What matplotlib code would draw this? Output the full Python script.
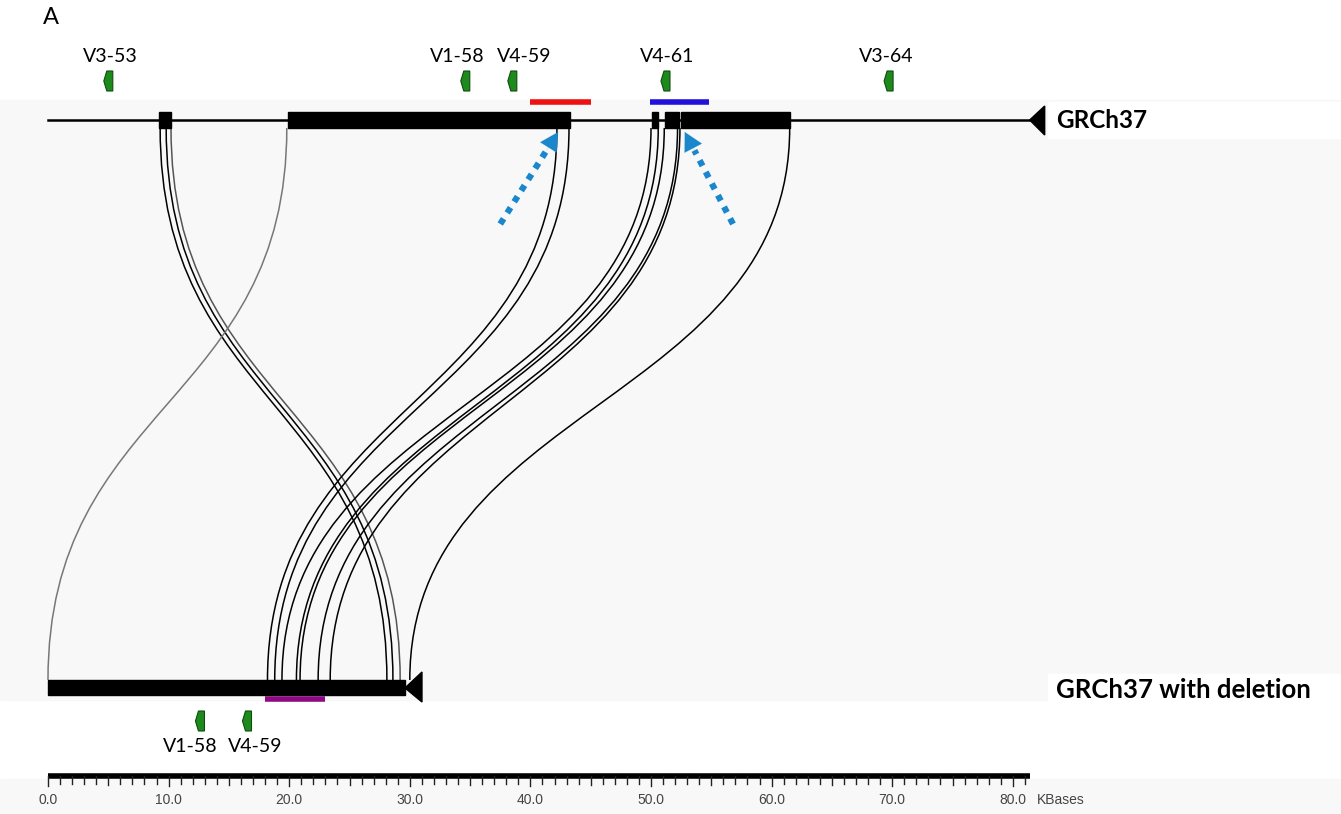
import numpy as np
import matplotlib
matplotlib.use("Agg")
import matplotlib.pyplot as plt
from matplotlib.path import Path
from matplotlib.patches import PathPatch, Polygon, Rectangle

# sequences (kb)
top_len = 81.4
bot_len = 29.6
top_blocks = [(9.2, 10.2), (19.9, 43.3), (50.1, 50.6), (51.2, 52.3), (52.5, 61.5)]

# alignment links: top position -> bottom position (kb)
link_top = [9.3, 9.8, 10.2, 19.8, 42.2, 43.2, 50.0, 50.6, 51.1, 52.2, 52.4, 61.5]
link_bot = [28.1, 28.6, 29.2, 0.0, 18.2, 18.8, 19.4, 20.6, 20.9, 22.4, 23.4, 30.0]
link_col = ["k", "k", "#555555", "#777777", "k", "k", "k", "k", "k", "k", "k", "k"]

top_genes = ["V3-53", "V1-58", "V4-59", "V4-61", "V3-64"]
top_gene_pos = [5.0, 34.6, 38.5, 51.2, 69.7]
top_label_pos = [5.2, 33.9, 39.5, 51.3, 69.5]
bot_genes = ["V1-58", "V4-59"]
bot_gene_pos = [12.6, 16.5]
bot_label_pos = [11.8, 17.2]

red_seg = (40.0, 45.0)
blue_seg = (49.9, 54.8)
purple_seg = (18.0, 23.0)

# dotted arrows (tail kb, head kb)
arrows = [(37.5, 42.3), (56.8, 52.8)]

ticks = np.arange(0, 82, 1)
tick_labels = np.arange(0, 90, 10)

px = 12.06  # pixels per kb
fig = plt.figure(figsize=(13.41, 8.14), dpi=100)
ax = fig.add_axes([0, 0, 1, 1])
ax.set_xlim(-48 / px, (1341 - 48) / px)
ax.set_ylim(814, 0)
ax.axis("off")

# backgrounds
ax.add_patch(Rectangle((-48 / px, 100), 1341 / px, 600, color="#f8f8f8", zorder=0))
ax.add_patch(Rectangle((1048 / px - 4, 102), 300 / px, 36, color="white", zorder=0))
ax.add_patch(Rectangle((1048 / px - 4, 674), 300 / px, 30, color="white", zorder=0))
ax.add_patch(Rectangle((-48 / px, 779), 1341 / px, 40, color="#f8f8f8", zorder=0))

ax.text(-0.4, 18, "A", fontsize=17, family="Lato", va="center", ha="left")

# top sequence
yt = 120
ax.plot([0, top_len], [yt, yt], color="k", lw=1.8, zorder=3)
for a, b in top_blocks:
    ax.add_patch(Rectangle((a, yt - 8), b - a, 16, color="k", zorder=3))
tri_w = 15 / px
ax.add_patch(Polygon([[top_len, yt], [top_len + tri_w, yt - 14], [top_len + tri_w, yt + 15]],
                     closed=True, color="k", zorder=3))
ax.text(1056 / px - 4, yt, "GRCh37", fontsize=17.5, family="Lato", fontweight="bold",
        va="center", ha="left")

# bottom sequence
yb = 688
ax.add_patch(Rectangle((0, yb - 8), bot_len, 15, color="k", zorder=3))
ax.add_patch(Polygon([[bot_len, yb], [bot_len + 17 / px, yb - 16], [bot_len + 17 / px, yb + 14]],
                     closed=True, color="k", zorder=3))
ax.text(1056 / px - 4, yb + 2, "GRCh37 with deletion", fontsize=18.5, family="Lato",
        fontweight="bold", va="center", ha="left")

# links
y0, y1 = yt + 8, yb - 8
k = 0.5 * (y1 - y0)
for xt, xb, c in zip(link_top, link_bot, link_col):
    verts = [(xt, y0), (xt, y0 + k), (xb, y1 - k), (xb, y1)]
    path = Path(verts, [Path.MOVETO, Path.CURVE4, Path.CURVE4, Path.CURVE4])
    ax.add_patch(PathPatch(path, fc="none", ec=c, lw=1.1, zorder=2))

# highlight segments
ax.plot(red_seg, [102, 102], color="#ee1111", lw=4, solid_capstyle="butt", zorder=3)
ax.plot(blue_seg, [102, 102], color="#2211dd", lw=4, solid_capstyle="butt", zorder=3)
ax.plot(purple_seg, [699, 699], color="#8e0a80", lw=4, solid_capstyle="butt", zorder=3)


# gene markers
def gene(x, yc):
    w = 9 / px
    h = 10
    pts = [[x + w / 2, yc - h], [x - w / 6, yc - h], [x - w / 2, yc],
           [x - w / 6, yc + h], [x + w / 2, yc + h]]
    ax.add_patch(Polygon(pts, closed=True, fc="#1e8a1e", ec="#0d4d0d", lw=0.8, zorder=3))


for name, g, lx in zip(top_genes, top_gene_pos, top_label_pos):
    gene(g, 81)
    ax.text(lx, 57, name, fontsize=14, family="Lato", ha="center", va="center")
for name, g, lx in zip(bot_genes, bot_gene_pos, bot_label_pos):
    gene(g, 721)
    ax.text(lx, 746, name, fontsize=14, family="Lato", ha="center", va="center")

# dotted blue arrows
acol = "#1a86cc"
for t, h in arrows:
    # dotted shaft, stopping short of the head
    f = 0.80
    hx = t + (h - t) * f
    hy = 224 + (132 - 224) * f
    ax.plot([t, hx], [224, hy], color=acol, lw=4.5, linestyle=(0, (1, 1.1)),
            dash_capstyle="butt", zorder=4)
    ax.annotate("", xy=(h, 132), xytext=(hx, hy),
                arrowprops=dict(arrowstyle="-|>,head_length=1.3,head_width=0.7",
                                color=acol, lw=0.1, shrinkA=0, shrinkB=0), zorder=4)

# scale bar
ax.plot([0, top_len], [776, 776], color="k", lw=4, solid_capstyle="butt")
for t in ticks:
    ln = 10 if t % 10 == 0 else (9 if t % 5 == 0 else 8)
    ax.plot([t, t], [776, 776 + ln], color="#222222", lw=1)
for t in tick_labels:
    ax.text(t, 800, "%.1f" % t, fontsize=10, family="Liberation Sans", color="#444444",
            ha="center", va="center")
ax.text(82.0, 800, "KBases", fontsize=10, family="Liberation Sans", color="#444444",
        ha="left", va="center")

fig.savefig("out.png", dpi=100)
